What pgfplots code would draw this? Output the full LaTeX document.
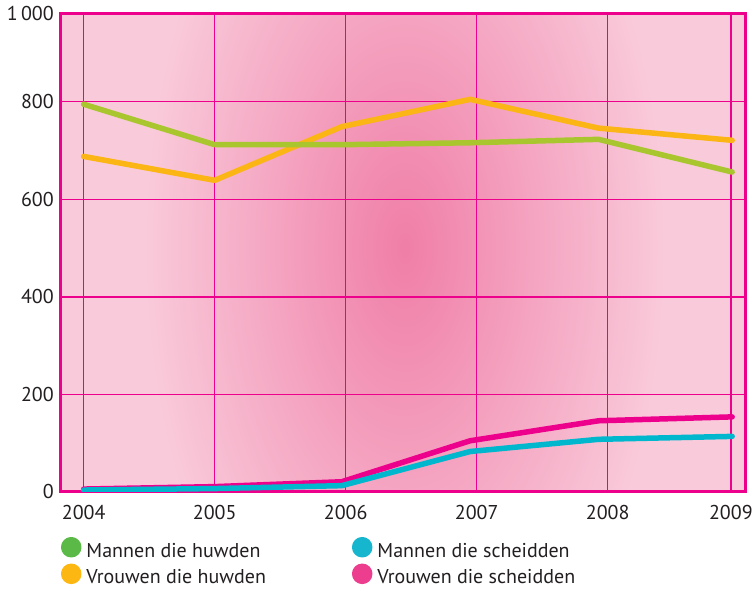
\documentclass[border=0pt]{standalone}
\usepackage{pgfplots}
\pgfplotsset{compat=1.18}
\usepackage{fontspec}
\setmainfont{PT Sans}
\definecolor{bgin}{HTML}{F07EA7}
\definecolor{bgout}{HTML}{F9CADA}
\definecolor{gridmag}{HTML}{EC008C}
\definecolor{framemag}{HTML}{EC008C}
\definecolor{txt}{HTML}{231F20}
\definecolor{cgreen}{HTML}{A9C62F}
\definecolor{corange}{HTML}{FBB514}
\definecolor{ccyan}{HTML}{00B7CE}
\definecolor{cmag}{HTML}{EC008C}
\definecolor{lgreen}{HTML}{5BBA47}
\definecolor{lorange}{HTML}{FDB713}
\definecolor{lcyan}{HTML}{16B6CE}
\definecolor{lmag}{HTML}{EC3D8E}
\begin{document}
\begin{tikzpicture}
\begin{axis}[
  scale only axis, width=684pt, height=478pt,
  xmin=2003.827, xmax=2009.048, ymin=0, ymax=980,
  xtick={2004,2005,2006,2007,2008,2008.94},
  xticklabels={2004,2005,2006,2007,2008,2009},
  ytick={0,200,400,600,800,980},
  yticklabels={0,200,400,600,800,1\,000},
  major tick length=0pt,
  grid=major,
  grid style={line width=1.3pt, color=gridmag},
  axis line style={line width=3pt, color=framemag},
  tick label style={font=\fontsize{20}{23}\selectfont, color=txt},
  yticklabel style={inner sep=0pt, xshift=-7pt},
  xticklabel style={inner sep=0pt, yshift=-13pt},
  set layers,
  every axis plot/.append style={line width=5.5pt, line cap=round, line join=round},
  legend columns=2,
  legend image code/.code={\fill[#1] (7.5pt,0.35em) circle (7.5pt);},
  legend style={draw=none, fill=none, inner sep=0pt, outer sep=0pt,
    at={(rel axis cs:0,0)}, anchor=north west, xshift=0pt, yshift=-45pt,
    font=\fontsize{20}{23}\selectfont, text=txt,
    cells={anchor=west}, row sep=3pt,
    /tikz/every odd column/.append style={column sep=3pt},
    /tikz/every even column/.append style={column sep=84pt}},
]
\begin{pgfonlayer}{axis background}
\fill[bgout] (rel axis cs:0,0) rectangle (rel axis cs:1,1);
\clip (rel axis cs:0,0) rectangle (rel axis cs:1,1);
\shade[inner color=bgin, outer color=bgout] (axis cs:2006.45,500) ellipse [x radius=260pt, y radius=480pt];
\end{pgfonlayer}
\addlegendimage{lgreen}
\addlegendentry{Mannen die huwden}
\addlegendimage{lcyan}
\addlegendentry{Mannen die scheidden}
\addlegendimage{lorange}
\addlegendentry{Vrouwen die huwden}
\addlegendimage{lmag}
\addlegendentry{Vrouwen die scheidden}
\addplot[corange, forget plot] coordinates {(2004,688) (2005,639) (2005.97,749) (2006.95,805) (2007.93,746) (2008.95,721)};
\addplot[cgreen, forget plot] coordinates {(2004,795) (2005,712) (2005.97,712) (2006.95,716) (2007.93,723) (2008.95,656)};
\addplot[cmag, forget plot] coordinates {(2004,6) (2005,11) (2005.97,21) (2006.95,105) (2007.93,146) (2008.95,154)};
\addplot[ccyan, forget plot] coordinates {(2004,4) (2005,7) (2005.97,13) (2006.95,83) (2007.93,108) (2008.95,114)};
\end{axis}
\pgfresetboundingbox
\path ([xshift=-61pt,yshift=-97pt]current axis.south west) rectangle ([xshift=8pt,yshift=14pt]current axis.north east);
\end{tikzpicture}
\end{document}
